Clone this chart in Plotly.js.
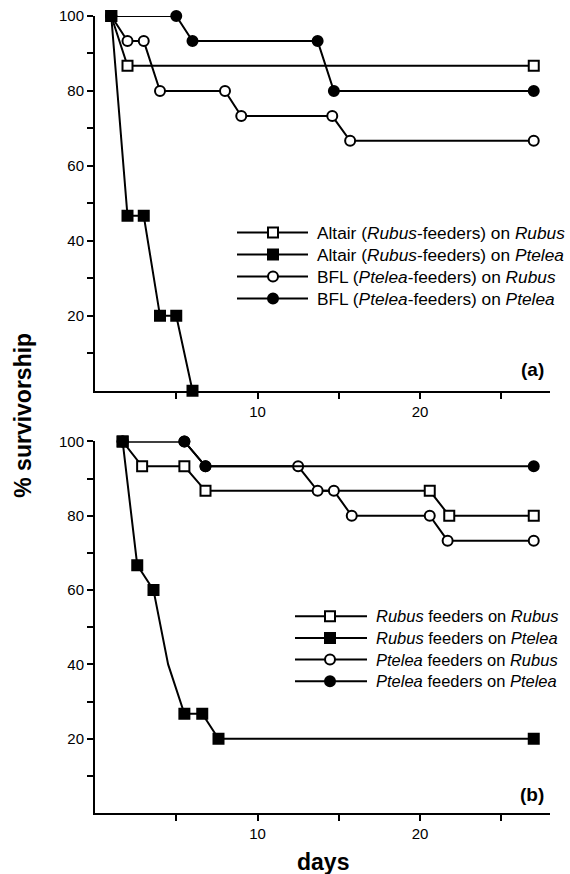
<!DOCTYPE html>
<html>
<head>
<meta charset="utf-8">
<script src="https://cdn.plot.ly/plotly-3.0.1.min.js"></script>
<style>html,body{margin:0;padding:0;background:#fff;}#chart{width:570px;height:874px;}</style>
</head>
<body>
<div id="chart"></div>
<script>
// ---------- Panel (a) data ----------
const altairRubusX = [1, 2, 27];
const altairRubusY = [100, 86.7, 86.7];
const altairPteleaX = [1, 2, 3, 4, 5, 6];
const altairPteleaY = [100, 46.7, 46.7, 20, 20, 0];
const bflRubusX = [1, 2, 3, 4, 8, 9, 14.6, 15.7, 27];
const bflRubusY = [100, 93.3, 93.3, 80, 80, 73.3, 73.3, 66.7, 66.7];
const bflPteleaX = [1, 5, 6, 13.7, 14.7, 27];
const bflPteleaY = [100, 100, 93.3, 93.3, 80, 80];

// ---------- Panel (b) data ----------
const rubRubX = [1.7, 2.9, 5.5, 6.8, 20.6, 21.8, 27];
const rubRubY = [100, 93.3, 93.3, 86.7, 86.7, 80, 80];
const rubPteX = [1.7, 2.6, 3.6, 4.5, 5.5, 6.6, 7.6, 27];
const rubPteY = [100, 66.7, 60, 40, 26.7, 26.7, 20, 20];
const rubPteMarked = [true, true, true, false, true, true, true, true];
const pteRubX = [1.7, 5.5, 6.8, 12.5, 13.7, 14.7, 15.8, 20.6, 21.7, 27];
const pteRubY = [100, 100, 93.3, 93.3, 86.7, 86.7, 80, 80, 73.3, 73.3];
const ptePteX = [1.7, 5.5, 6.8, 27];
const ptePteY = [100, 100, 93.3, 93.3];

// ---------- Labels ----------
const legendA = [
  'Altair (<i>Rubus</i>-feeders) on <i>Rubus</i>',
  'Altair (<i>Rubus</i>-feeders) on <i>Ptelea</i>',
  'BFL (<i>Ptelea</i>-feeders) on <i>Rubus</i>',
  'BFL (<i>Ptelea</i>-feeders) on <i>Ptelea</i>'
];
const legendB = [
  '<i>Rubus</i> feeders on <i>Rubus</i>',
  '<i>Rubus</i> feeders on <i>Ptelea</i>',
  '<i>Ptelea</i> feeders on <i>Rubus</i>',
  '<i>Ptelea</i> feeders on <i>Ptelea</i>'
];
const yTickVals = [10, 20, 30, 40, 50, 60, 70, 80, 90, 100];
const yTickText = ['', '20', '', '40', '', '60', '', '80', '', '100'];
const xTickVals = [5, 10, 15, 20, 25];
const xTickText = ['', '10', '', '20', ''];

// ---------- Styles ----------
const FONT = 'Liberation Sans, Arial, Helvetica, sans-serif';
const styles = [
  {symbol: 'square', fill: '#fff', size: 10},
  {symbol: 'square', fill: '#000', size: 10},
  {symbol: 'circle', fill: '#fff', size: 10},
  {symbol: 'circle', fill: '#000', size: 10}
];
const W = 570, H = 874;
const M = {l: 95, r: 20, t: 16, b: 60.5};
const plotW = W - M.l - M.r, plotH = H - M.t - M.b;
const px2x = p => (p - M.l) / plotW;
const py2y = p => (H - M.b - p) / plotH;

function trace(x, y, st, xa, ya, sizes) {
  return {
    type: 'scatter', mode: 'lines+markers', x: x, y: y,
    xaxis: xa, yaxis: ya, cliponaxis: false, showlegend: false, hoverinfo: 'skip',
    line: {color: '#000', width: 2},
    marker: {symbol: st.symbol, size: sizes || st.size, opacity: 1, color: st.fill,
      line: {color: '#000', width: 2}}
  };
}

const data = [
  trace(altairRubusX, altairRubusY, styles[0], 'x', 'y'),
  trace(bflRubusX, bflRubusY, styles[2], 'x', 'y'),
  trace(bflPteleaX, bflPteleaY, styles[3], 'x', 'y'),
  trace(altairPteleaX, altairPteleaY, styles[1], 'x', 'y'),
  trace(rubRubX, rubRubY, styles[0], 'x2', 'y2'),
  trace(pteRubX, pteRubY, styles[2], 'x2', 'y2'),
  trace(ptePteX, ptePteY, styles[3], 'x2', 'y2'),
  trace(rubPteX, rubPteY, styles[1], 'x2', 'y2', rubPteMarked.map(m => m ? styles[1].size : 0))
];

// panel domains (pixel -> paper)
const topDomain = [py2y(391), 1];
const botDomain = [0, py2y(441.7)];

function xaxis(domainAnchor) {
  return {
    range: [0, 28], domain: [0, 1], anchor: domainAnchor,
    showline: true, linewidth: 2, linecolor: '#000', showgrid: false, zeroline: false,
    ticks: 'outside', ticklen: 6, tickwidth: 2, tickcolor: '#000',
    tickvals: xTickVals, ticktext: xTickText,
    tickfont: {family: FONT, size: 15, color: '#000'}
  };
}
function yaxis(domain, anchor) {
  return {
    range: [0, 100], domain: domain, anchor: anchor,
    showline: true, linewidth: 2, linecolor: '#000', showgrid: false, zeroline: false,
    ticks: 'outside', ticklen: 6, tickwidth: 2, tickcolor: '#000',
    tickvals: yTickVals, ticktext: yTickText,
    tickfont: {family: FONT, size: 15, color: '#000'}
  };
}

// custom legends
const shapes = [];
const annotations = [];
function addLegend(labels, rowsPx, lineX0, lineX1, markX, textX, fsize) {
  labels.forEach((lab, i) => {
    const yy = py2y(rowsPx[i]);
    shapes.push({type: 'line', xref: 'paper', yref: 'paper', x0: px2x(lineX0), x1: px2x(lineX1), y0: yy, y1: yy,
      line: {color: '#000', width: 2}});
    const st = styles[i];
    const h = st.size / 2;
    shapes.push({type: st.symbol === 'square' ? 'rect' : 'circle', xref: 'paper', yref: 'paper',
      xsizemode: 'pixel', ysizemode: 'pixel', xanchor: px2x(markX), yanchor: yy,
      x0: -h, x1: h, y0: -h, y1: h, fillcolor: st.fill, line: {color: '#000', width: 2}});
    annotations.push({xref: 'paper', yref: 'paper', x: px2x(textX), y: yy, xanchor: 'left', yanchor: 'middle',
      showarrow: false, text: lab, font: {family: FONT, size: fsize, color: '#000'}});
  });
}
addLegend(legendA, [232.7, 254.7, 276.7, 298.7], 237, 308, 273, 315, 17.3);
addLegend(legendB, [616.7, 638.5, 660, 681.7], 295, 367, 330, 374, 16.5);

annotations.push({xref: 'paper', yref: 'paper', x: px2x(546), y: py2y(370), xanchor: 'right', yanchor: 'middle',
  showarrow: false, text: '<b>(a)</b>', font: {family: FONT, size: 19, color: '#000'}});
annotations.push({xref: 'paper', yref: 'paper', x: px2x(546), y: py2y(795), xanchor: 'right', yanchor: 'middle',
  showarrow: false, text: '<b>(b)</b>', font: {family: FONT, size: 19, color: '#000'}});
annotations.push({xref: 'paper', yref: 'paper', x: px2x(23), y: py2y(416), xanchor: 'center', yanchor: 'middle',
  textangle: -90, showarrow: false, text: '<b>% survivorship</b>', font: {family: FONT, size: 23, color: '#000'}});
annotations.push({xref: 'paper', yref: 'paper', x: 0.5, y: py2y(863), xanchor: 'center', yanchor: 'middle',
  showarrow: false, text: '<b>days</b>', font: {family: FONT, size: 23, color: '#000'}});

const layout = {
  width: W, height: H,
  margin: {l: M.l, r: M.r, t: M.t, b: M.b, pad: 0},
  paper_bgcolor: '#fff', plot_bgcolor: '#fff',
  showlegend: false,
  font: {family: FONT, color: '#000'},
  xaxis: xaxis('y'), yaxis: yaxis(topDomain, 'x'),
  xaxis2: xaxis('y2'), yaxis2: yaxis(botDomain, 'x2'),
  shapes: shapes, annotations: annotations
};

Plotly.newPlot('chart', data, layout, {displayModeBar: false, staticPlot: true});
</script>
</body>
</html>
